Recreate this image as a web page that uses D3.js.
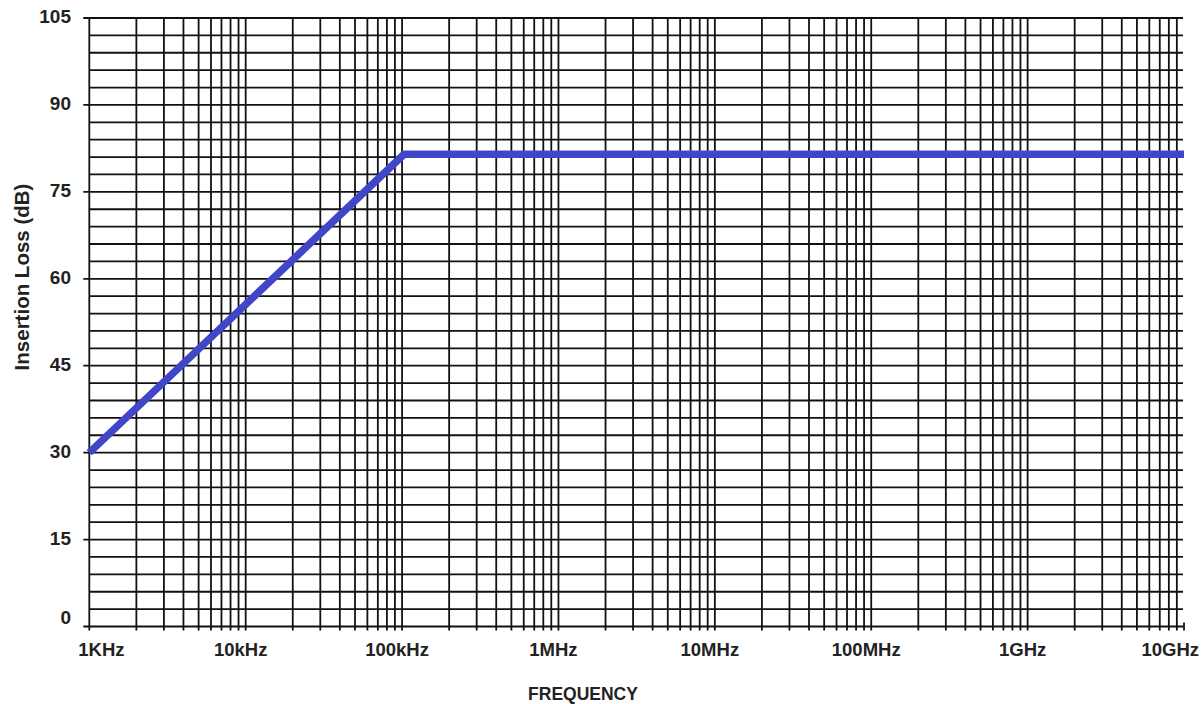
<!DOCTYPE html>
<html>
<head>
<meta charset="utf-8">
<script src="https://cdn.jsdelivr.net/npm/d3@7"></script>
<style>
  html, body { margin: 0; padding: 0; background: #fff; }
  svg { display: block; }
  text { font-family: Arial, "Liberation Sans", sans-serif; font-weight: bold; fill: #222; }
</style>
</head>
<body>
<svg id="chart" width="1204" height="704"></svg>
<script>
// ---- data ----
const frequency = [1e3, 1.03e5, 1e10];       // Hz
const insertionLoss = [30, 81.5, 81.5];      // dB
const xTickValues = [1e3, 1e4, 1e5, 1e6, 1e7, 1e8, 1e9, 1e10];
const xTickLabels = ["1KHz", "10kHz", "100kHz", "1MHz", "10MHz", "100MHz", "1GHz", "10GHz"];
const yTickValues = [0, 15, 30, 45, 60, 75, 90, 105];
const yGridStep = 3;

// ---- layout ----
const svg = d3.select("#chart");
const plotLeft = 89.3, plotRight = 1184, plotTop = 18, plotBottom = 626.5;

const x = d3.scaleLog().domain([1e3, 1e10]).range([plotLeft, plotRight]);
const y = d3.scaleLinear().domain([0, 105]).range([plotBottom, plotTop]);

const grid = svg.append("g").attr("stroke", "#111").attr("stroke-width", 1.8);

// vertical grid lines (1..9 per decade)
const vLines = [];
for (let d = 3; d < 10; d++) for (let m = 1; m <= 9; m++) vLines.push(m * Math.pow(10, d));
grid.selectAll("line.v").data(vLines).join("line")
  .attr("class", "v")
  .attr("x1", d => x(d)).attr("x2", d => x(d))
  .attr("y1", y(105)).attr("y2", plotBottom + 4);

// small tick at 10GHz
grid.append("line")
  .attr("x1", x(1e10)).attr("x2", x(1e10))
  .attr("y1", plotBottom - 4).attr("y2", plotBottom + 4);

// horizontal grid lines every 3 dB
const hLines = d3.range(0, 105 + 0.001, yGridStep);
grid.selectAll("line.h").data(hLines).join("line")
  .attr("class", "h")
  .attr("x1", d => yTickValues.includes(d) ? plotLeft - 6 : plotLeft)
  .attr("x2", plotRight - 1)
  .attr("y1", d => y(d)).attr("y2", d => y(d));

// x tick labels
svg.append("g").selectAll("text").data(xTickValues).join("text")
  .attr("x", (d, i) => i === 0 ? x(d) - 11 : (i === xTickValues.length - 1 ? x(d) + 15 : x(d) - 5))
  .attr("y", 656)
  .attr("text-anchor", (d, i) => i === 0 ? "start" : (i === xTickValues.length - 1 ? "end" : "middle"))
  .attr("font-size", 18.5)
  .text((d, i) => xTickLabels[i]);

// y tick labels
svg.append("g").selectAll("text").data(yTickValues).join("text")
  .attr("x", 71)
  .attr("y", d => y(d) + (d === 0 ? -9.5 : -1.5))
  .attr("dy", "0.35em")
  .attr("text-anchor", "end")
  .attr("font-size", 19)
  .text(d => d);

// axis titles
svg.append("text")
  .attr("x", 583).attr("y", 700)
  .attr("text-anchor", "middle")
  .attr("font-size", 17.5)
  .text("FREQUENCY");

svg.append("text")
  .attr("transform", `translate(29,277) rotate(-90)`)
  .attr("text-anchor", "middle")
  .attr("font-size", 20.5)
  .text("Insertion Loss (dB)");

// data line
const line = d3.line().x(d => x(d[0])).y(d => y(d[1]));
svg.append("path")
  .datum(frequency.map((f, i) => [f, insertionLoss[i]]))
  .attr("d", line)
  .attr("fill", "none")
  .attr("stroke", "#4046c8")
  .attr("stroke-width", 7.5)
  .attr("stroke-linejoin", "round")
  .attr("stroke-linecap", "butt");
</script>
</body>
</html>
